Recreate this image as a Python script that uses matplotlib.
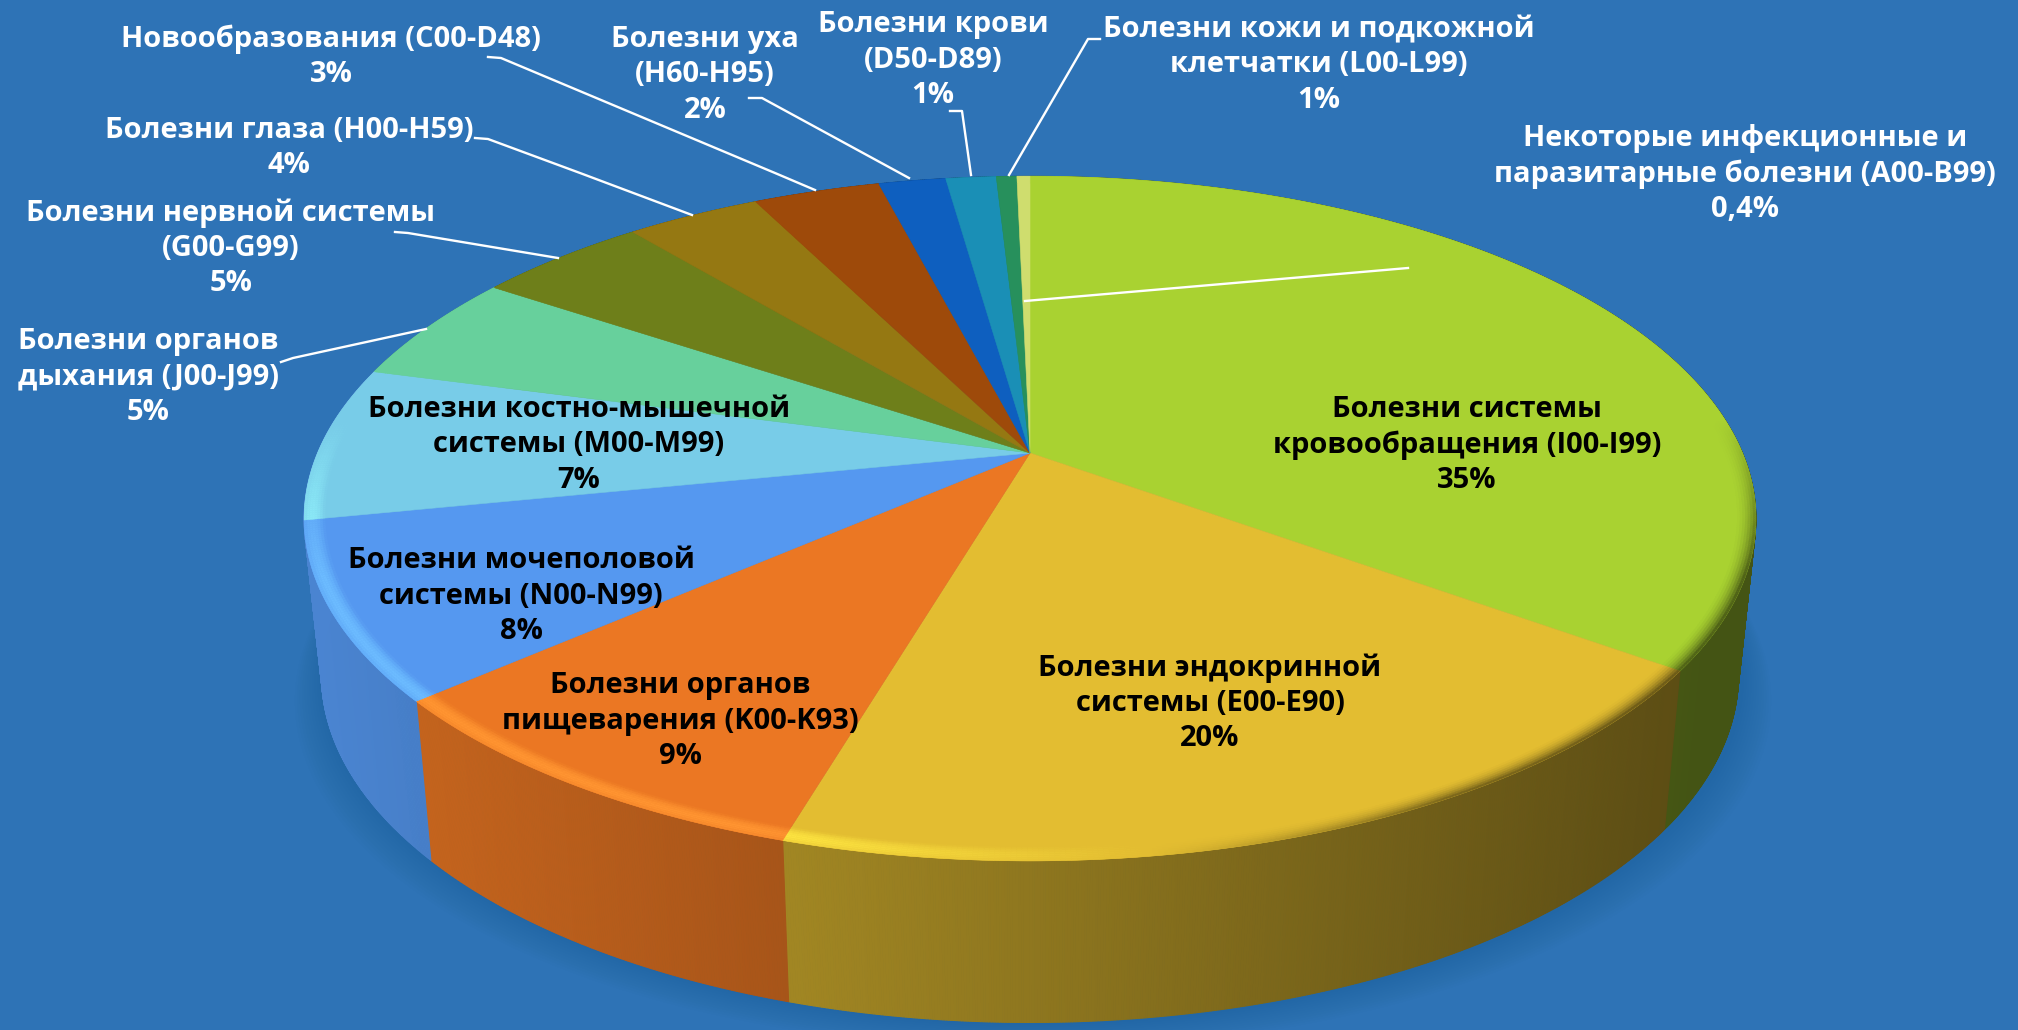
import numpy as np
import matplotlib
matplotlib.use('Agg')
import matplotlib.pyplot as plt
from matplotlib.collections import PolyCollection
from matplotlib.colors import to_rgb

plt.rcParams['font.family'] = ['Open Sans', 'DejaVu Sans']

# доли секторов (по часовой стрелке от верха)
shares = [35, 19.6, 9, 8.3, 7.3, 5.2, 4.6, 3.6, 3.4, 1.8, 1.35, 0.55, 0.35]
names = [
    'Болезни системы\nкровообращения (I00-I99)',
    'Болезни эндокринной\nсистемы (E00-E90)',
    'Болезни органов\nпищеварения (K00-K93)',
    'Болезни мочеполовой\nсистемы (N00-N99)',
    'Болезни костно-мышечной\nсистемы (M00-M99)',
    'Болезни органов\nдыхания (J00-J99)',
    'Болезни нервной системы\n(G00-G99)',
    'Болезни глаза (H00-H59)',
    'Новообразования (C00-D48)',
    'Болезни уха\n(H60-H95)',
    'Болезни крови\n(D50-D89)',
    'Болезни кожи и подкожной\nклетчатки (L00-L99)',
    'Некоторые инфекционные и\nпаразитарные болезни (A00-B99)',
]
percents = ['35%', '20%', '9%', '8%', '7%', '5%', '5%', '4%', '3%', '2%', '1%', '1%', '0,4%']
colors = ['#A9D231', '#E3BD31', '#EB7723', '#5598F0', '#78CCE8', '#67D09C', '#6E7F1A',
          '#957812', '#9E4A0A', '#0E5FBF', '#1A8FB6', '#27905C', '#CFDD6E']
# стенка голубого сектора не видна, слева силуэт идёт цветом соседнего
side_colors = colors[:4] + [colors[3]] + colors[5:]

# центры подписей в пикселях картинки
label_pos = [(1467, 445), (1210, 703), (680, 721), (521, 596), (579, 445), (148, 377),
             (231, 248), (289, 148), (331, 57), (705, 75), (933, 60), (1319, 65), (1745, 174)]
label_color = ['black'] * 5 + ['white'] * 8

leaders = [
    [(488, 57), (501, 58), (775, 173), (815, 190)],
    [(475, 138), (488, 139), (580, 173), (692, 215)],
    [(395, 232), (408, 233), (558, 258)],
    [(281, 362), (293, 358), (426, 329)],
    [(749, 98), (762, 98), (909, 178)],
    [(950, 111), (962, 111), (971, 175)],
    [(1100, 39), (1088, 39), (1009, 175)],
    [(1408, 268), (1025, 301)],
]

BG = '#2E73B6'
CX, APEX_Y = 1030, 453
C = 0.1917
TOP_D, TOP_A = 712.4, 329.7
BOT_D, BOT_Y, BOT_A = 695.3, 608, 335


def top_xy(theta, r=1.0):
    """верхняя плоскость диска в перспективе"""
    u = r * np.sin(theta)
    v = r * np.cos(theta)
    w = 1 + C * v
    return CX + TOP_D * u / w, APEX_Y - TOP_A * v / w


def bottom_xy(theta):
    """нижняя плоскость диска"""
    u = np.sin(theta)
    v = np.cos(theta)
    w = 1 + C * v
    return CX + BOT_D * u / w, BOT_Y - BOT_A * v / w


def side_factor(x):
    return 0.87 - 0.47 * np.clip(x - 320, 0, 1380) / 1380


def mix(a, b, t):
    return tuple((1 - t) * np.array(a) + t * np.array(b))


fig = plt.figure(figsize=(20.18, 10.30), dpi=100, facecolor=BG)
ax = fig.add_axes([0, 0, 1, 1])
ax.set_xlim(0, 2018)
ax.set_ylim(1030, 0)
ax.axis('off')

edges = np.radians(np.concatenate([[0], np.cumsum(shares)]) / np.sum(shares) * 360)

# тень под диском
ring = np.linspace(0, 2 * np.pi, 360)
bx, by = bottom_xy(ring)
for k in range(1, 13):
    ax.fill(CX + (bx - CX) * (1 + k * 0.0035) + 3, by + k * 2.2, color='#1E4F85', alpha=0.022, lw=0, zorder=1)

# боковая стенка
for i, col in enumerate(side_colors):
    rgb = np.array(to_rgb(col))
    th = np.linspace(edges[i], edges[i + 1], max(3, int(shares[i] * 20)))
    quads, fc = [], []
    for a, b in zip(th[:-1], th[1:]):
        x1, y1 = top_xy(a)
        x2, y2 = top_xy(b)
        x3, y3 = bottom_xy(b)
        x4, y4 = bottom_xy(a)
        quads.append([(x1, y1), (x2, y2), (x3, y3), (x4, y4)])
        fc.append(tuple(rgb * side_factor((x1 + x2 + x3 + x4) / 4)))
    ax.add_collection(PolyCollection(quads, facecolors=fc, edgecolors=fc, linewidths=0.8, zorder=2))

# верхняя грань
for i, col in enumerate(colors):
    th = np.linspace(edges[i], edges[i + 1], max(3, int(shares[i] * 6)))
    xs, ys = top_xy(th)
    ax.fill(np.r_[CX, xs], np.r_[APEX_Y, ys], color=col, lw=0.4, ec=col, zorder=3)

# фаска по краю
radii = np.linspace(0.972, 1.0, 9)
for i, col in enumerate(colors):
    rgb = to_rgb(col)
    th = np.linspace(edges[i], edges[i + 1], max(3, int(shares[i] * 10)))
    quads, fc = [], []
    for a, b in zip(th[:-1], th[1:]):
        mid = (a + b) / 2
        weight = np.clip((0.1 - np.cos(mid)) / 0.45, 0, 1)
        xm = top_xy(mid)[0]
        light = np.clip(np.array(rgb) * 1.18 + 0.03, 0, 1)
        dark = np.array(rgb) * side_factor(xm)
        glow = np.clip((1150 - xm) / 400, 0, 1)
        shade = np.clip((xm - 1150) / 300, 0, 1)
        for r1, r2 in zip(radii[:-1], radii[1:]):
            t = (0.5 * (r1 + r2) - radii[0]) / (radii[-1] - radii[0])
            bump = np.sin(t * np.pi * 0.8)
            c = mix(rgb, light, bump * glow * weight)
            c = mix(c, dark, t ** 2 * shade * weight)
            x1, y1 = top_xy(a, r1)
            x2, y2 = top_xy(b, r1)
            x3, y3 = top_xy(b, r2)
            x4, y4 = top_xy(a, r2)
            quads.append([(x1, y1), (x2, y2), (x3, y3), (x4, y4)])
            fc.append(c)
    ax.add_collection(PolyCollection(quads, facecolors=fc, edgecolors=fc, linewidths=0.3, zorder=4))

# выноски
for pts in leaders:
    ax.plot([p[0] for p in pts], [p[1] for p in pts], color='white', lw=1.7, zorder=5, solid_joinstyle='round')

# подписи
for name, pct, pos, tc in zip(names, percents, label_pos, label_color):
    ax.text(pos[0], pos[1], name + '\n' + pct, ha='center', va='center', color=tc,
            fontsize=21, fontweight='bold', linespacing=1.28, zorder=6)

fig.savefig('out.png', dpi=100, facecolor=BG)
plt.close()
